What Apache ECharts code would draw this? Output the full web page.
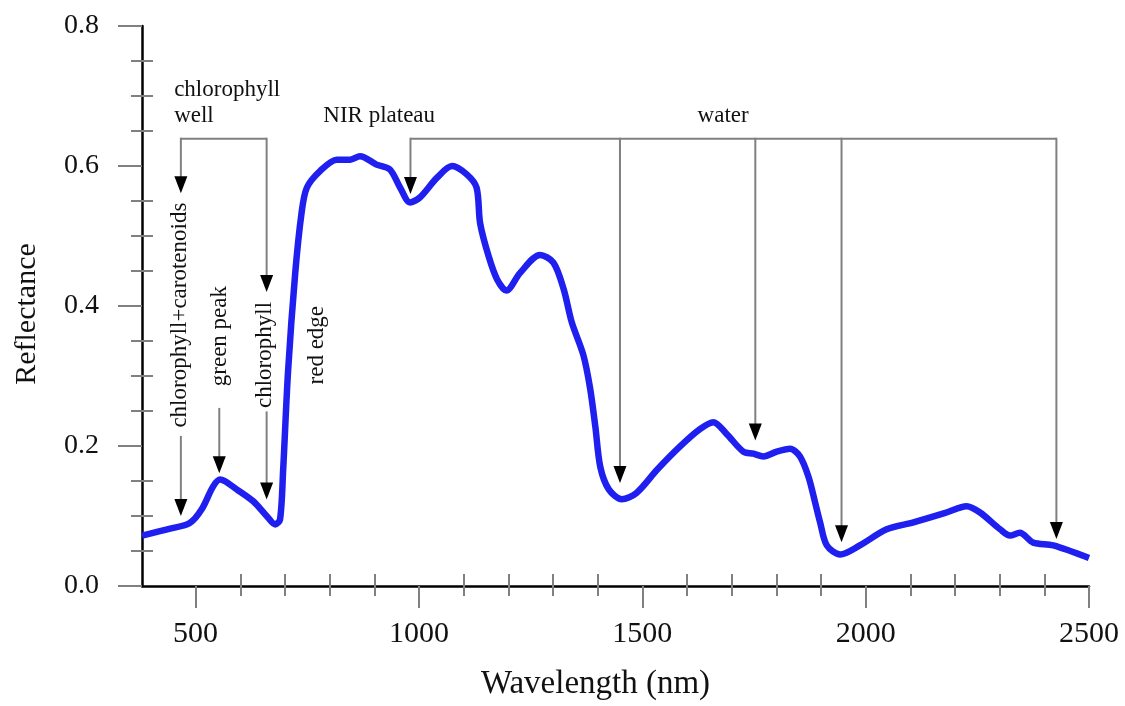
<!DOCTYPE html>
<html>
<head>
<meta charset="utf-8">
<script src="https://cdn.jsdelivr.net/npm/echarts@6/dist/echarts.min.js"></script>
<style>
  html, body { margin: 0; padding: 0; background: #fff; }
  #main { width: 1125px; height: 706px; }
</style>
</head>
<body>
<div id="main"></div>
<script>
// 光谱曲线数据
const wavelength = [380, 443, 487, 514, 539, 555, 592, 629, 659, 678,
  689, 696, 707, 723, 737, 749, 779, 816, 846, 868,
  905, 935, 958, 980, 1002, 1040, 1074, 1107, 1129, 1137,
  1156, 1175, 1196, 1226, 1271, 1301, 1324, 1342, 1368, 1383,
  1395, 1406, 1425, 1454, 1487, 1533, 1584, 1629, 1659, 1689,
  1726, 1749, 1771, 1801, 1831, 1853, 1872, 1887, 1898, 1913,
  1943, 1987, 2047, 2107, 2181, 2226, 2256, 2301, 2323, 2345,
  2375, 2420, 2500];
const reflectance = [0.072, 0.082, 0.090, 0.110, 0.142, 0.152, 0.138, 0.121, 0.100, 0.088,
  0.095, 0.166, 0.307, 0.447, 0.532, 0.569, 0.593, 0.609, 0.609, 0.614,
  0.602, 0.595, 0.569, 0.548, 0.555, 0.583, 0.600, 0.588, 0.569, 0.518,
  0.471, 0.438, 0.422, 0.447, 0.473, 0.462, 0.424, 0.377, 0.330, 0.283,
  0.227, 0.170, 0.138, 0.124, 0.133, 0.166, 0.199, 0.224, 0.234, 0.217,
  0.192, 0.189, 0.185, 0.192, 0.196, 0.185, 0.156, 0.119, 0.091, 0.058,
  0.045, 0.058, 0.081, 0.091, 0.105, 0.114, 0.105, 0.081, 0.072, 0.076,
  0.062, 0.058, 0.040];

// 刻度
const xMajorTicks = [500, 1000, 1500, 2000, 2500];
const xMinorTicks = [600, 700, 800, 900, 1100, 1200, 1300, 1400, 1600, 1700, 1800, 1900, 2100, 2200, 2300, 2400];
const yMinorTicks = [0.05, 0.1, 0.15, 0.25, 0.3, 0.35, 0.45, 0.5, 0.55, 0.65, 0.7, 0.75];

// 注释箭头: [波长, 起点反射率, 箭头尖反射率]
const arrows = [
  [467, 0.639, 0.561], [659, 0.639, 0.420],
  [467, 0.213, 0.100], [553, 0.253, 0.161], [659, 0.248, 0.1235],
  [981, 0.639, 0.560],
  [1450, 0.639, 0.147], [1753, 0.639, 0.208], [1946, 0.639, 0.0624], [2427, 0.639, 0.0672]
];
// 横向括线: [起点波长, 终点波长, 反射率]
const brackets = [[467, 659, 0.639], [981, 2427, 0.639]];
// 注释文字
const noteText = ['chlorophyll', 'well', 'NIR plateau', 'water',
  'chlorophyll+carotenoids', 'green peak', 'chlorophyll', 'red edge'];
const noteX = [452, 452, 911, 1681, 465, 555, 655, 771];
const noteY = [0.709, 0.671, 0.671, 0.671, 0.387, 0.357, 0.330, 0.344];
const noteVertical = [false, false, false, false, true, true, true, true];
const noteAlign = ['left', 'left', 'center', 'center', 'center', 'center', 'center', 'center'];

const FONT = '"Liberation Serif", "DejaVu Serif", serif';
const TICK = '#808080';

var chart = echarts.init(document.getElementById('main'));

function hiddenAxis(extra) {
  return Object.assign({
    axisLine: {show: false},
    axisLabel: {show: false},
    splitLine: {show: false}
  }, extra);
}

var option = {
  animation: false,
  backgroundColor: '#fff',
  grid: {left: 142, right: 36, top: 26, bottom: 112, containLabel: false},
  xAxis: [{
    type: 'value', min: 380, max: 2500, position: 'bottom',
    name: 'Wavelength (nm)', nameLocation: 'middle', nameGap: 82,
    nameTextStyle: {fontFamily: FONT, fontSize: 33, color: '#111', padding: [0, 40, 0, 0]},
    axisLine: {onZero: false, lineStyle: {color: '#000', width: 2.5}},
    axisTick: {show: true, customValues: xMajorTicks, length: 22, lineStyle: {color: TICK, width: 2}},
    axisLabel: {customValues: xMajorTicks, margin: 33, fontFamily: FONT, fontSize: 30, color: '#111',
      formatter: function (v) { return String(v); }},
    splitLine: {show: false}
  }, hiddenAxis({
    type: 'value', min: 380, max: 2500, position: 'bottom',
    axisTick: {show: true, inside: true, customValues: xMinorTicks, length: 12, lineStyle: {color: TICK, width: 2}}
  }), hiddenAxis({
    type: 'value', min: 380, max: 2500, position: 'bottom',
    axisTick: {show: true, inside: false, customValues: xMinorTicks, length: 10, lineStyle: {color: TICK, width: 2}}
  })],
  yAxis: [{
    type: 'value', min: 0, max: 0.8, interval: 0.2, position: 'left',
    name: 'Reflectance', nameLocation: 'middle', nameGap: 100,
    nameTextStyle: {fontFamily: FONT, fontSize: 30, color: '#111', padding: [0, 16, 0, 0]},
    axisLine: {onZero: false, lineStyle: {color: '#000', width: 2.5}},
    axisTick: {show: true, length: 24, lineStyle: {color: TICK, width: 2}},
    axisLabel: {margin: 43, fontFamily: FONT, fontSize: 28, color: '#111',
      formatter: function (v) { return v.toFixed(1); }},
    splitLine: {show: false}
  }, hiddenAxis({
    type: 'value', min: 0, max: 0.8, position: 'left',
    axisTick: {show: true, inside: true, customValues: yMinorTicks, length: 11, lineStyle: {color: TICK, width: 2}}
  }), hiddenAxis({
    type: 'value', min: 0, max: 0.8, position: 'left',
    axisTick: {show: true, inside: false, customValues: yMinorTicks, length: 11, lineStyle: {color: TICK, width: 2}}
  })],
  series: [{
    type: 'line',
    data: wavelength.map(function (w, i) { return [w, reflectance[i]]; }),
    smooth: 0.3,
    showSymbol: false,
    lineStyle: {color: '#1f1ff0', width: 6.5},
    z: 3
  }, {
    // 括线
    type: 'custom',
    encode: {x: [0, 1], y: 2},
    data: brackets,
    renderItem: function (params, api) {
      var a = api.coord([api.value(0), api.value(2)]);
      var b = api.coord([api.value(1), api.value(2)]);
      return {type: 'line', shape: {x1: a[0], y1: a[1], x2: b[0], y2: b[1]},
        style: {stroke: TICK, lineWidth: 2}};
    },
    z: 4
  }, {
    // 箭头
    type: 'custom',
    encode: {x: 0, y: [1, 2]},
    data: arrows,
    renderItem: function (params, api) {
      var top = api.coord([api.value(0), api.value(1)]);
      var tip = api.coord([api.value(0), api.value(2)]);
      var hw = 6.5, hh = 17;
      return {type: 'group', children: [
        {type: 'line', shape: {x1: top[0], y1: top[1] - 1, x2: tip[0], y2: tip[1] - hh + 2},
          style: {stroke: TICK, lineWidth: 2}},
        {type: 'polygon', shape: {points: [[tip[0] - hw, tip[1] - hh], [tip[0] + hw, tip[1] - hh], [tip[0], tip[1]]]},
          style: {fill: '#000'}}
      ]};
    },
    z: 5
  }, {
    // 注释文字
    type: 'custom',
    encode: {x: 0, y: 1},
    data: noteX.map(function (x, i) { return [x, noteY[i]]; }),
    renderItem: function (params, api) {
      var i = params.dataIndex;
      var p = api.coord([api.value(0), api.value(1)]);
      return {type: 'text', x: p[0], y: p[1],
        rotation: noteVertical[i] ? Math.PI / 2 : 0,
        style: {text: noteText[i], fontFamily: FONT, fontSize: 23, fill: '#111',
          align: noteAlign[i], verticalAlign: 'middle'}};
    },
    z: 6
  }]
};
chart.setOption(option);

window.addEventListener('resize', function () {
  chart.resize();
});
</script>
</body>
</html>
